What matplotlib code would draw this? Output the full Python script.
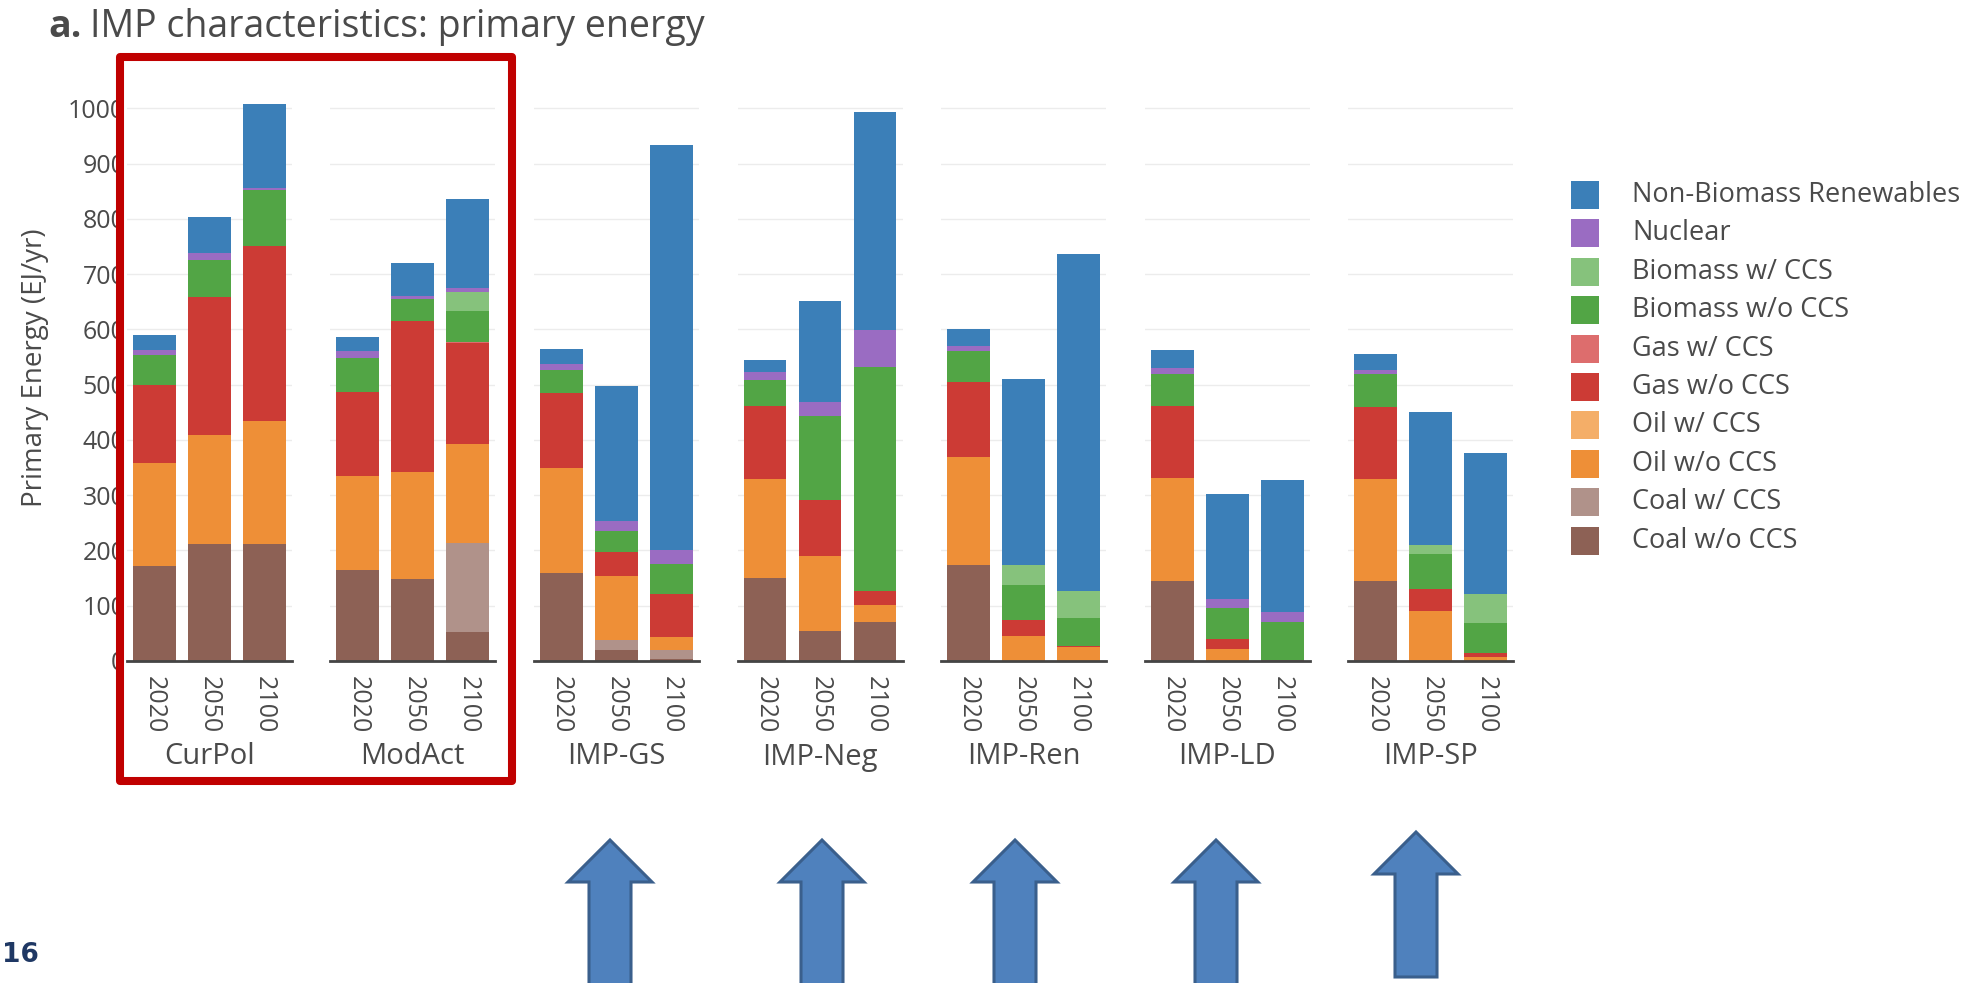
import matplotlib.pyplot as plt
import numpy as np
from matplotlib.patches import Rectangle, Polygon

W, H = 1982, 983
plt.rcParams['font.family'] = ['Open Sans', 'DejaVu Sans']

scenarios = ['CurPol', 'ModAct', 'IMP-GS', 'IMP-Neg', 'IMP-Ren', 'IMP-LD', 'IMP-SP']
years = ['2020', '2050', '2100']

# EJ/yr, 3 values (2020, 2050, 2100) per scenario, scenarios in order above
coal_wo = [171, 211, 211,  164, 149, 53,   160, 19, 3,    150, 55, 70,   174, 0, 0,    144, 0, 2,    144, 0, 0]
coal_w  = [0, 0, 0,        0, 0, 161,      0, 19, 16,     0, 0, 0,       0, 0, 0,      0, 0, 0,      0, 0, 0]
oil_wo  = [187, 198, 224,  171, 193, 179,  189, 115, 24,  180, 135, 32,  196, 46, 25,  188, 21, 0,   186, 90, 8]
oil_w   = [0, 0, 0,        0, 0, 0,        0, 0, 0,       0, 0, 0,       0, 0, 0,      0, 0, 0,      0, 0, 0]
gas_wo  = [141, 250, 316,  152, 273, 182,  135, 45, 78,   132, 102, 24,  134, 29, 2,   129, 19, 0,   130, 40, 6]
gas_w   = [0, 0, 0,        0, 0, 3,        0, 0, 0,       0, 0, 0,       0, 0, 0,      0, 0, 0,      0, 0, 0]
bio_wo  = [55, 67, 102,    61, 40, 56,     43, 37, 55,    47, 152, 406,  57, 62, 50,   59, 55, 68,   60, 64, 55]
bio_w   = [0, 0, 0,        0, 0, 33,       0, 0, 0,       0, 0, 0,       0, 37, 50,    0, 0, 0,      0, 16, 52]
nuclear = [9, 13, 3,       12, 5, 7,       11, 19, 24,    13, 24, 66,    9, 0, 0,      11, 18, 18,   7, 0, 0]
nbr     = [26, 65, 151,    26, 61, 162,    27, 244, 734,  23, 183, 396,  30, 336, 610, 32, 190, 240, 29, 240, 255]

# stacked bottom -> top
layers = [
    ('Coal w/o CCS', coal_wo, '#8d6155'),
    ('Coal w/ CCS', coal_w, '#b0928a'),
    ('Oil w/o CCS', oil_wo, '#ee8f37'),
    ('Oil w/ CCS', oil_w, '#f4ae68'),
    ('Gas w/o CCS', gas_wo, '#cc3b35'),
    ('Gas w/ CCS', gas_w, '#dd6d6d'),
    ('Biomass w/o CCS', bio_wo, '#52a545'),
    ('Biomass w/ CCS', bio_w, '#86c27c'),
    ('Nuclear', nuclear, '#9a6cc2'),
    ('Non-Biomass Renewables', nbr, '#3b7fb8'),
]

txt = '#4a4a4a'
fig = plt.figure(figsize=(W / 100, H / 100), dpi=100)

def fx(px):
    return px / W

def fy(py):
    return 1 - py / H

ax_left0, ax_step, ax_w = 126.7, 203.6, 165
y_base, px_per = 661, 0.5527
ytop = 1060

for i, scen in enumerate(scenarios):
    left = ax_left0 + i * ax_step
    ax = fig.add_axes([fx(left), fy(y_base), fx(ax_w), ytop * px_per / H])
    x = np.arange(3)
    bottom = np.zeros(3)
    for name, vals, col in layers:
        v = np.array(vals[i * 3:i * 3 + 3], dtype=float)
        ax.bar(x, v, 0.78, bottom=bottom, color=col, linewidth=0, zorder=2)
        bottom += v
    ax.set_xlim(-0.5, 2.5)
    ax.set_ylim(0, ytop)
    ax.set_yticks(range(0, 1001, 100))
    ax.grid(axis='y', color='#ececec', lw=1)
    ax.set_axisbelow(True)
    for s in ['top', 'right', 'left']:
        ax.spines[s].set_visible(False)
    ax.spines['bottom'].set_color('#444444')
    ax.spines['bottom'].set_linewidth(2)
    ax.spines['bottom'].set_zorder(3)
    ax.set_xticks(x)
    ax.set_xticklabels(years, rotation=-90, fontsize=18, color=txt)
    ax.tick_params(axis='x', length=0, pad=11)
    ax.tick_params(axis='y', length=0, pad=1, labelsize=18, labelcolor=txt)
    if i > 0:
        ax.set_yticklabels([])
    else:
        ax.set_ylabel('Primary Energy (EJ/yr)', fontsize=20, color=txt, labelpad=14)
    fig.text(fx(left + ax_w / 2), fy(757), scen, ha='center', va='center',
             fontsize=21, color=txt)

# legend drawn by hand, top entry = last layer
for k, (name, vals, col) in enumerate(layers[::-1]):
    cy = 195 + k * 38.4
    fig.add_artist(Rectangle((fx(1571), fy(cy + 14)), fx(28), 28 / H,
                             transform=fig.transFigure, color=col, lw=0))
    fig.text(fx(1632), fy(cy), name, ha='left', va='center', fontsize=19.5, color=txt)

# title
r = fig.canvas.get_renderer()
t1 = fig.text(fx(48), fy(27), 'a.', fontsize=27, fontweight='bold', color=txt, va='center')
bb = t1.get_window_extent(r)
fig.text(bb.x1 / W + fx(9), fy(27), 'IMP characteristics: primary energy', fontsize=27,
         color=txt, va='center')

# red highlight box around CurPol / ModAct
fig.add_artist(Rectangle((fx(120), fy(781)), fx(392), (781 - 57) / H,
                         transform=fig.transFigure, fill=False, ec='#c00000',
                         lw=5.8, joinstyle='round', zorder=10))

# blue up arrows under the IMP scenarios
arrow_x = [610, 822, 1015, 1216, 1416]
arrow_tip = [840, 840, 840, 840, 832]
arrow_end = [995, 995, 995, 995, 977]
for cx, tip, end in zip(arrow_x, arrow_tip, arrow_end):
    base = tip + 42
    pts = [(cx, tip), (cx + 42, base), (cx + 21, base), (cx + 21, end),
           (cx - 21, end), (cx - 21, base), (cx - 42, base)]
    fig.add_artist(Polygon([(fx(a), fy(b)) for a, b in pts], closed=True,
                           transform=fig.transFigure, fc='#4f81bd', ec='#3a5f8c', lw=2.2))

fig.text(fx(2), fy(955), '16', fontsize=19, fontweight='bold', color='#1f3864',
         va='center', family=['Liberation Sans Narrow', 'DejaVu Sans'])

fig.savefig('out.png', dpi=100)
